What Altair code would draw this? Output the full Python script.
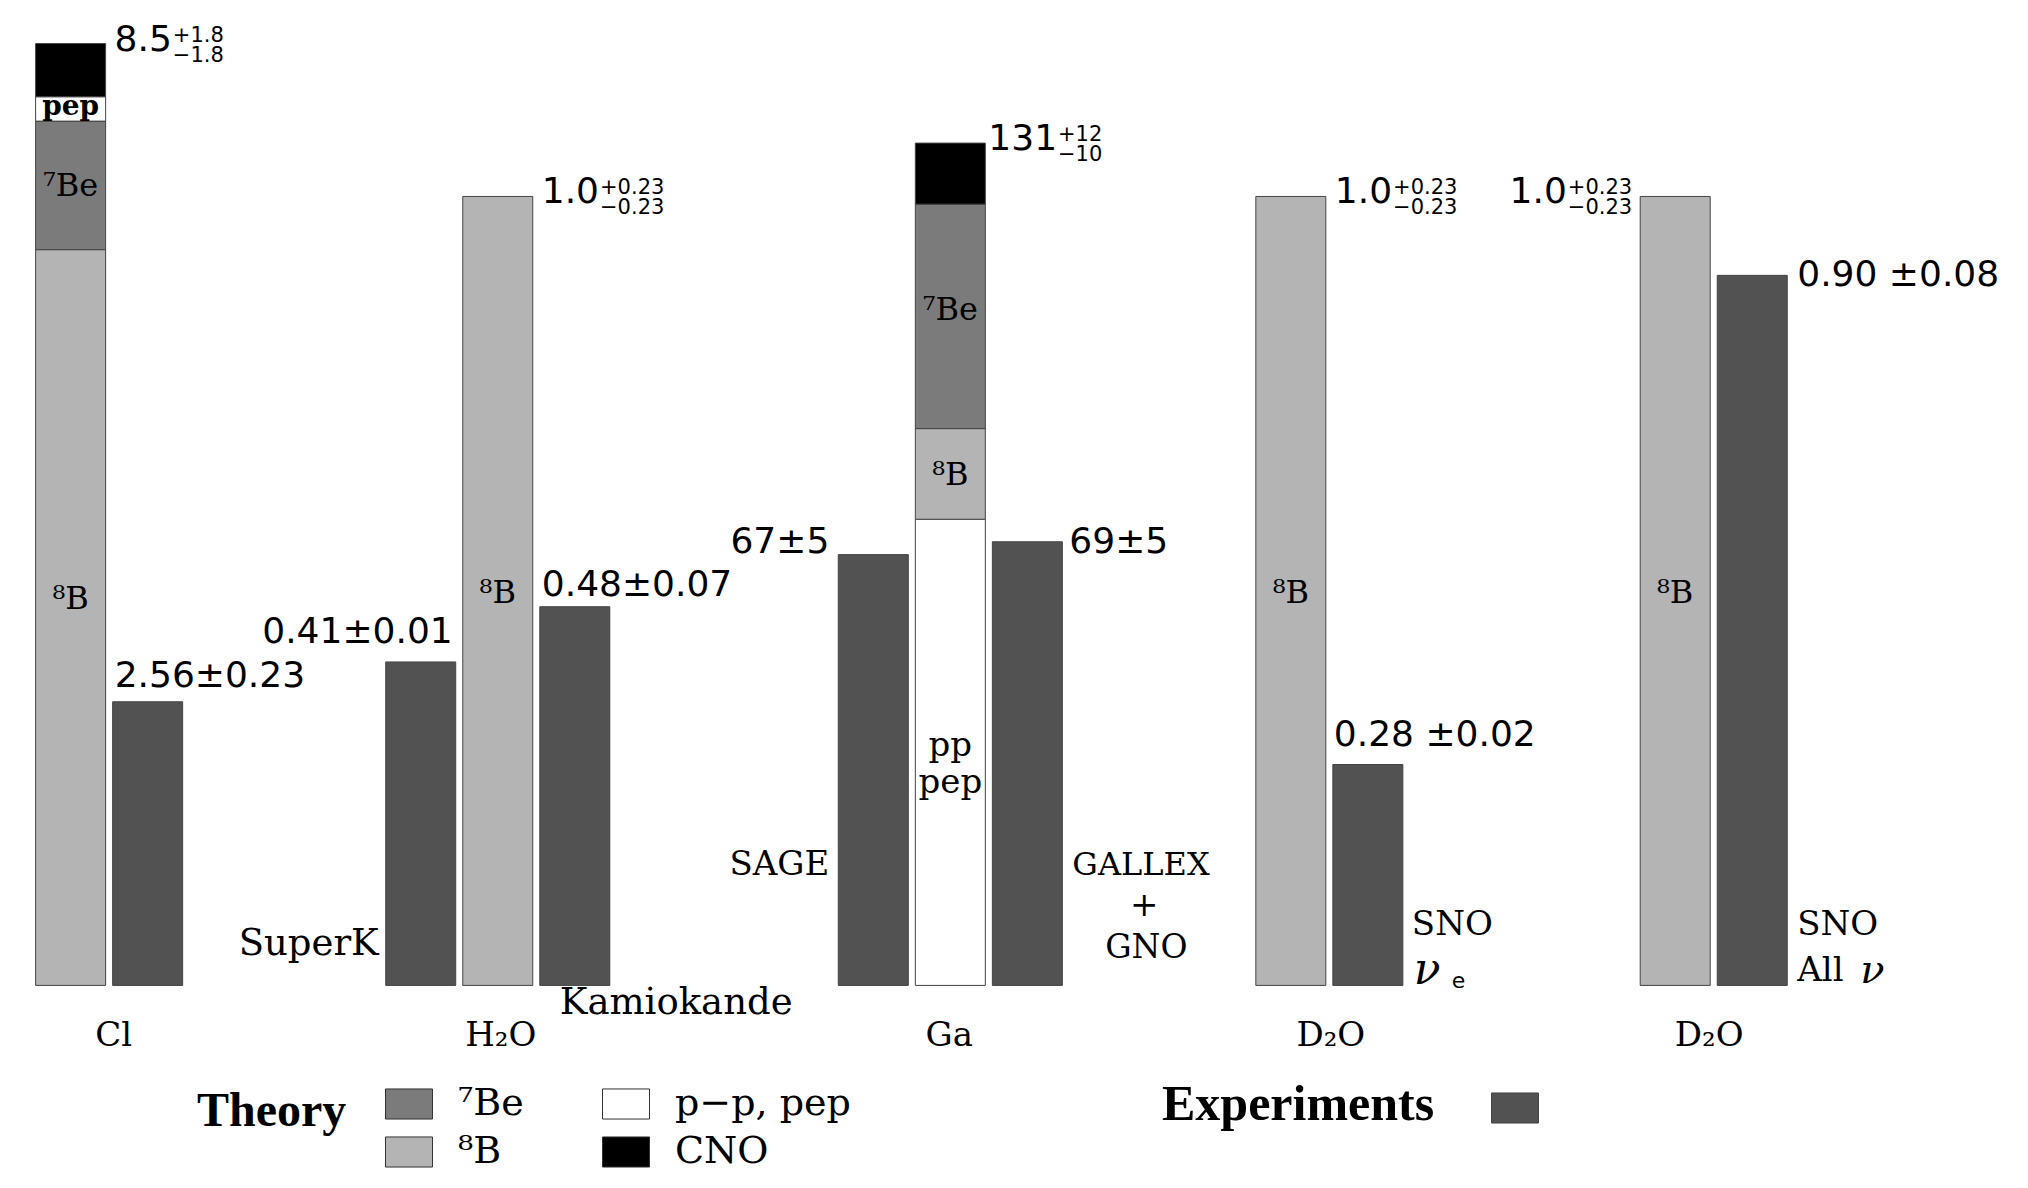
import altair as alt
import pandas as pd

# ------------------------------------------------------------------ data
group_ids = ["Cl", "H2O", "Ga", "D2Oe", "D2Oall"]
group_names = ["Cl", "H₂O", "Ga", "D₂O", "D₂O"]
theory_slot = [0.0, 5.545, 11.42, 15.84, 20.83]       # category position of each theory bar
group_unit = [7.12, 1.0, 122.7, 1.0, 1.0]             # value drawn as one unit of bar height

theory_total = ["8.5", "1.0", "131", "1.0", "1.0"]
theory_plus = ["+1.8", "+0.23", "+12", "+0.23", "+0.23"]
theory_minus = ["−1.8", "−0.23", "−10", "−0.23", "−0.23"]

comp_bar = ["Cl", "Cl", "Cl", "Cl", "H2O", "Ga", "Ga", "Ga", "Ga", "D2Oe", "D2Oall"]
comp_name = ["⁸B", "⁷Be", "p−p, pep", "CNO", "⁸B", "p−p, pep", "⁸B", "⁷Be", "CNO", "⁸B", "⁸B"]
comp_value = [6.64, 1.16, 0.22, 0.48, 1.0, 72.5, 14.1, 34.9, 9.5, 1.0, 1.0]

legend_order = ["⁷Be", "p−p, pep", "⁸B", "CNO"]
legend_colors = ["#7b7b7b", "#ffffff", "#b4b4b4", "#000000"]

exp_group = ["Cl", "H2O", "H2O", "Ga", "Ga", "D2Oe", "D2Oall"]
exp_side = [1, -1, 1, -1, 1, 1, 1]
exp_value = [2.56, 0.41, 0.48, 67, 69, 0.28, 0.90]
exp_result = ["2.56±0.23", "0.41±0.01", "0.48±0.07", "67±5", "69±5", "0.28 ±0.02", "0.90 ±0.08"]

name_exp = [1, 2, 3, 4, 4, 4, 5, 5, 5, 6, 6, 6]
name_text = ["SuperK", "Kamiokande", "SAGE", "GALLEX", "+", "GNO", "SNO", "ν", "e", "SNO", "All", "ν"]

inbar_bar = ["Cl", "Cl", "Cl", "H2O", "Ga", "Ga", "Ga", "Ga", "D2Oe", "D2Oall"]
inbar_comp = ["p−p, pep", "⁷Be", "⁸B", "⁸B", "⁷Be", "⁸B", "p−p, pep", "p−p, pep", "⁸B", "⁸B"]
inbar_text = ["pep", "⁷Be", "⁸B", "⁸B", "⁷Be", "⁸B", "pp", "pep", "⁸B", "⁸B"]

# ------------------------------------------------------------------ tables
gi = {g: i for i, g in enumerate(group_ids)}
cum = {g: 0.0 for g in group_ids}
rows = []
for b, c, v in zip(comp_bar, comp_name, comp_value):
    y0 = cum[b]
    y1 = y0 + v / group_unit[gi[b]]
    cum[b] = y1
    rows.append(dict(bar=b, comp=c, slot=theory_slot[gi[b]], y0=y0, y1=y1, mid=(y0 + y1) / 2))
theory_df = pd.DataFrame(rows)

exp_df = pd.DataFrame(dict(
    slot=[theory_slot[gi[g]] + s for g, s in zip(exp_group, exp_side)],
    top=[v / group_unit[gi[g]] for g, v in zip(exp_group, exp_value)],
    label=exp_result,
    kind=["Experiments"] * len(exp_value),
))

# ------------------------------------------------------------------ scales
xs = alt.Scale(domain=[-0.7479, 25.215], nice=False, zero=False)
ys = alt.Scale(domain=[-0.24663, 1.23888], nice=False, zero=False)
BAR = 70
NUM = "DejaVu Sans"
SERIF = "DejaVu Serif"
RECT = "M-1,-0.64L1,-0.64L1,0.64L-1,0.64Z"

theory = alt.Chart(theory_df).mark_bar(size=BAR, stroke="#444444", strokeWidth=1).encode(
    x=alt.X("slot:Q", scale=xs, axis=None),
    y=alt.Y("y1:Q", scale=ys, axis=None),
    y2="y0:Q",
    color=alt.Color("comp:N", scale=alt.Scale(domain=legend_order, range=legend_colors),
                    legend=alt.Legend(
                        title="Theory", orient="none", legendX=189, legendY=1072,
                        columns=2, direction="horizontal", titleOrient="left",
                        titleAnchor="middle", titleBaseline="alphabetic",
                        titleFont="Liberation Serif", titleFontSize=48, titleFontWeight="bold",
                        titleColor="black", titlePadding=38, titleLimit=600,
                        labelFont=SERIF, labelFontSize=38, labelColor="black",
                        labelOffset=25, labelLimit=400,
                        symbolType=RECT, symbolSize=2209,
                        symbolStrokeColor="#333333", symbolStrokeWidth=1, symbolOpacity=1,
                        rowPadding=5, columnPadding=76, padding=0)),
)

experiments = alt.Chart(exp_df).mark_bar(size=BAR, stroke="#444444", strokeWidth=1).encode(
    x=alt.X("slot:Q", scale=xs, axis=None),
    y=alt.Y("top:Q", scale=ys, axis=None),
    y2=alt.datum(0),
    fill=alt.Fill("kind:N", scale=alt.Scale(domain=["Experiments"], range=["#525252"]),
                  legend=alt.Legend(
                      title="Experiments", orient="none", legendX=1154, legendY=1076,
                      titleOrient="left", titleAnchor="middle", titleBaseline="middle",
                      titleFont="Liberation Serif", titleFontSize=50, titleFontWeight="bold",
                      titleColor="black", titlePadding=56, titleLimit=600,
                      labelExpr="''", labelOffset=0,
                      symbolType=RECT, symbolSize=2209,
                      symbolStrokeColor="#444444", symbolStrokeWidth=1, symbolOpacity=1,
                      padding=0)),
)


def text_layer(df, xf, yf, tf, align, dx, dy, font, size, weight="normal", style="normal"):
    return alt.Chart(df).mark_text(
        align=align, baseline="middle", dx=dx, dy=dy, font=font, fontSize=size,
        fontWeight=weight, fontStyle=style, color="black",
    ).encode(
        x=alt.X(f"{xf}:Q", scale=xs, axis=None),
        y=alt.Y(f"{yf}:Q", scale=ys, axis=None),
        text=alt.Text(f"{tf}:N"),
    )


ADV = {".": 0.318, "+": 0.838, "−": 0.838, " ": 0.318}


def width(s, fs):
    return sum(ADV.get(c, 0.636) for c in s) * fs


layers = [theory, experiments]

# theory totals with asymmetric errors
MAIN, SUP = 36, 21
main_dx = [44, 44, 38, 44, None]
for i, g in enumerate(group_ids):
    one = pd.DataFrame(dict(slot=[theory_slot[i]], top=[cum[g]], m=[theory_total[i]],
                            p=[theory_plus[i]], n=[theory_minus[i]]))
    if main_dx[i] is not None:
        mdx = main_dx[i]
        sdx = mdx + width(theory_total[i], MAIN) + 1
        layers += [text_layer(one, "slot", "top", "m", "left", mdx, -4, NUM, MAIN),
                   text_layer(one, "slot", "top", "p", "left", sdx, -8, NUM, SUP),
                   text_layer(one, "slot", "top", "n", "left", sdx, 12, NUM, SUP)]
    else:
        sdx = -43
        mdx = sdx - max(width(theory_plus[i], SUP), width(theory_minus[i], SUP)) - 1
        layers += [text_layer(one, "slot", "top", "m", "right", mdx, -4, NUM, MAIN),
                   text_layer(one, "slot", "top", "p", "right", sdx, -8, NUM, SUP),
                   text_layer(one, "slot", "top", "n", "right", sdx, 12, NUM, SUP)]

# experiment results
res_style = [("left", -33, -26), ("right", 32, -30), ("left", -33, -22), ("right", -44, -13),
             ("left", 42, 0), ("left", -34, -30), ("left", 45, 0)]
for i, (al, dx, dy) in enumerate(res_style):
    layers.append(text_layer(exp_df.iloc[[i]], "slot", "top", "label", al, dx, dy, NUM, 36))

# experiment names (anchored at the bar foot)
name_style = [("right", -42, -41, 37, "normal", SERIF),
              ("left", -15, 18, 37, "normal", SERIF),
              ("right", -44, -120, 34, "normal", SERIF),
              ("left", 45, -120, 32, "normal", SERIF),
              ("center", 117, -79, 34, "normal", SERIF),
              ("center", 119, -37, 33, "normal", SERIF),
              ("left", 44, -60, 34, "normal", SERIF),
              ("left", 46, -14, 44, "italic", SERIF),
              ("left", 84, -4, 22, "normal", NUM),
              ("left", 45, -60, 34, "normal", SERIF),
              ("left", 45, -14, 34, "normal", SERIF),
              ("left", 108, -14, 40, "italic", SERIF)]
for k, (al, dx, dy, fs, st, fo) in enumerate(name_style):
    one = pd.DataFrame(dict(slot=[exp_df.slot[name_exp[k]]], base=[0.0], t=[name_text[k]]))
    layers.append(text_layer(one, "slot", "base", "t", al, dx, dy, fo, fs, style=st))

# labels inside the theory bars
inbar_style = [(-2, 28, "bold"), (1, 32, "normal"), (-19, 32, "normal"), (2, 32, "normal"),
               (-6, 32, "normal"), (1, 32, "normal"), (-6, 34, "normal"), (31, 34, "normal"),
               (2, 32, "normal"), (2, 32, "normal")]
for k, (dy, fs, wt) in enumerate(inbar_style):
    seg = theory_df[(theory_df.bar == inbar_bar[k]) & (theory_df.comp == inbar_comp[k])].iloc[[0]].copy()
    seg["t"] = inbar_text[k]
    layers.append(text_layer(seg, "slot", "mid", "t", "center", 0, dy, SERIF, fs, weight=wt))

# category labels under the groups
cat_dx = [43, 3, -1, 40, 34]
for i in range(len(group_ids)):
    one = pd.DataFrame(dict(slot=[theory_slot[i]], base=[0.0], t=[group_names[i]]))
    layers.append(text_layer(one, "slot", "base", "t", "center", cat_dx[i], 51, SERIF, 34))

chart = alt.layer(*layers).properties(
    width=2010, height=1172, padding=0,
    autosize=alt.AutoSizeParams(type="none"),
    background="white",
).configure_view(strokeWidth=0)

chart.save("out.html", embed_options={"renderer": "svg", "actions": False})
